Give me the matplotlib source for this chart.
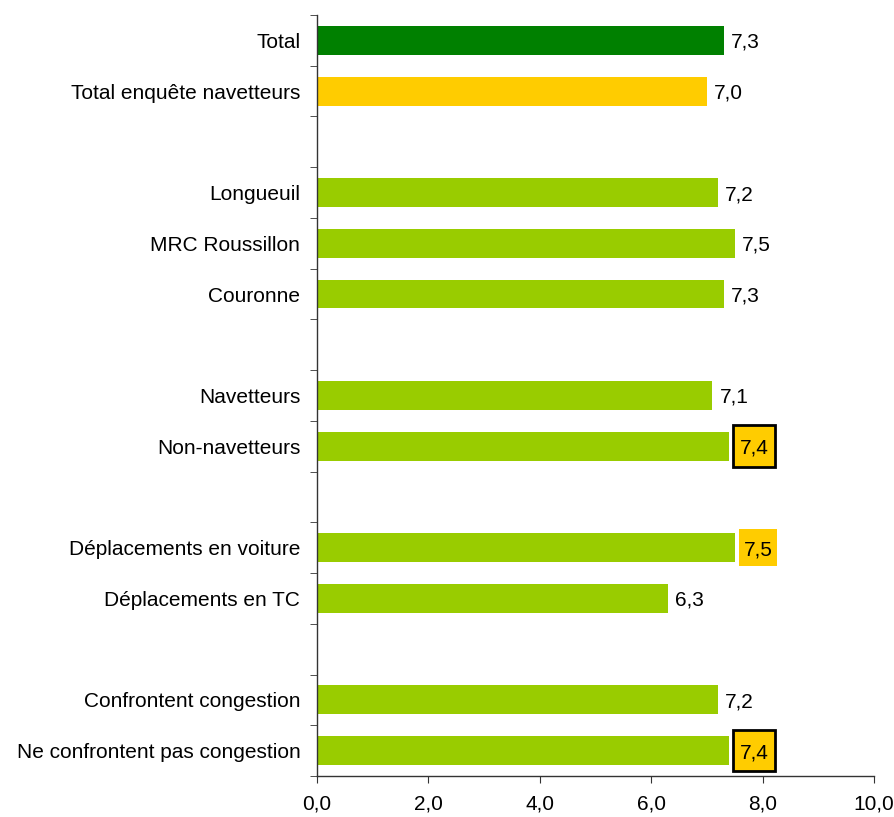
import matplotlib
matplotlib.use("Agg")
import matplotlib.pyplot as plt
from matplotlib.patches import Rectangle
import numpy as np

plt.rcParams['font.family'] = ['Liberation Sans', 'DejaVu Sans']

categories = ["Total", "Total enquête navetteurs", "",
              "Longueuil", "MRC Roussillon", "Couronne", "",
              "Navetteurs", "Non-navetteurs", "",
              "Déplacements en voiture", "Déplacements en TC", "",
              "Confrontent congestion", "Ne confrontent pas congestion"]
values = [7.3, 7.0, None, 7.2, 7.5, 7.3, None, 7.1, 7.4, None, 7.5, 6.3, None, 7.2, 7.4]
value_labels = ["7,3", "7,0", "", "7,2", "7,5", "7,3", "", "7,1", "7,4", "", "7,5", "6,3", "", "7,2", "7,4"]
# highlight: 0 none, 1 yellow box, 2 yellow box with black edge
highlight = [0, 0, 0, 0, 0, 0, 0, 0, 2, 0, 1, 0, 0, 0, 2]
xticks = [0, 2, 4, 6, 8, 10]
xtick_labels = ["0,0", "2,0", "4,0", "6,0", "8,0", "10,0"]

colors = {0: "#008000", 1: "#FFCC00"}
default_color = "#99CC00"
FS = 15

fig = plt.figure(figsize=(8.95, 8.17), dpi=100)
ax = fig.add_axes([317/895, 1-776/817, (874-317)/895, (776-15)/817])

n = len(categories)
for i, (v, lab, h) in enumerate(zip(values, value_labels, highlight)):
    if v is None:
        continue
    c = colors.get(i, default_color)
    ax.barh(i, v, height=0.57, color=c, edgecolor='none')
    if h == 0:
        ax.text(v + 0.13, i, lab, va='center_baseline', ha='left', fontsize=FS)
    else:
        if h == 1:
            x0, w, hh = v + 0.08, 0.67, 0.37
            rect = Rectangle((x0, i - hh), w, 2 * hh, facecolor='#FFCC00',
                             edgecolor='none', zorder=3)
        else:
            x0, w, hh = v + 0.07, 0.76, 0.41
            rect = Rectangle((x0, i - hh), w, 2 * hh, facecolor='#FFCC00',
                             edgecolor='black', linewidth=2, zorder=3)
        ax.add_patch(rect)
        ax.text(x0 + w / 2, i, lab, va='center_baseline', ha='center',
                fontsize=FS, zorder=4)

ax.set_ylim(n - 0.5, -0.5)
ax.set_xlim(0, 10)
ax.set_yticks(np.arange(n))
ax.set_yticklabels(categories, fontsize=FS)
ax.set_yticks(np.arange(n + 1) - 0.5, minor=True)
ax.tick_params(axis='y', which='major', length=0, pad=12)
ax.tick_params(axis='y', which='minor', length=5, direction='out', color='#333333')
ax.set_xticks(xticks)
ax.set_xticklabels(xtick_labels, fontsize=FS)
ax.tick_params(axis='x', length=5, direction='out', color='#333333', pad=8)
for s in ['top', 'right']:
    ax.spines[s].set_visible(False)
for s in ['left', 'bottom']:
    ax.spines[s].set_color('#333333')
    ax.spines[s].set_linewidth(1)

fig.savefig("out.png", dpi=100)
